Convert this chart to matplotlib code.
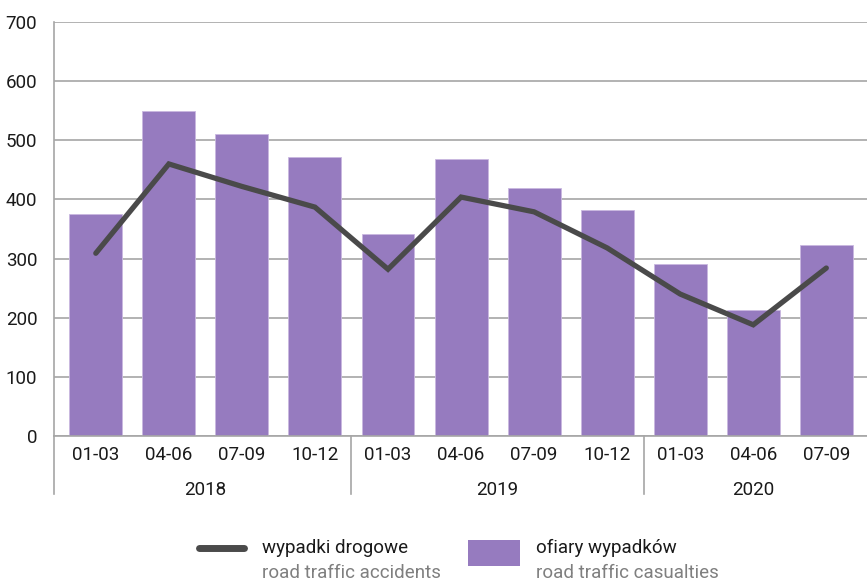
import matplotlib
matplotlib.use("Agg")
import matplotlib.pyplot as plt
from matplotlib.lines import Line2D
from matplotlib.patches import Rectangle
import matplotlib.transforms as mtransforms

quarters = ["01-03", "04-06", "07-09", "10-12",
            "01-03", "04-06", "07-09", "10-12",
            "01-03", "04-06", "07-09"]
years = ["2018", "2019", "2020"]
year_counts = [4, 4, 3]
casualties = [375, 550, 511, 471, 341, 468, 420, 382, 291, 213, 323]
accidents = [309, 460, 422, 387, 282, 404, 379, 318, 240, 188, 284]
yticks = [0, 100, 200, 300, 400, 500, 600, 700]

plt.rcParams['font.family'] = ['Roboto', 'DejaVu Sans']

BAR = "#967bbf"
LINE = "#4a4a4a"
GRID = "#a6a6a6"
TXT = "#1a1a1a"
SUB = "#7f7f7f"

fig = plt.figure(figsize=(8.67, 5.81), dpi=100)
ax = fig.add_axes([0.0623, 0.2496, 0.9377, 0.7125])

x = list(range(len(quarters)))
ax.bar(x, casualties, width=0.725, color=BAR, edgecolor="#c9b8e0", linewidth=0.6, zorder=2)
ax.plot(x, accidents, color=LINE, linewidth=3.8, solid_capstyle="round",
        solid_joinstyle="miter", zorder=3)

ax.set_xlim(-0.572, len(quarters) - 0.443)
ax.set_ylim(0, 700)
ax.set_yticks(yticks)
ax.set_yticklabels([str(v) for v in yticks], fontsize=13.5, color=TXT)
ax.yaxis.grid(True, color=GRID, linewidth=1.2, zorder=0)
ax.set_axisbelow(True)
for s in ["top", "right"]:
    ax.spines[s].set_visible(False)
ax.spines["left"].set_color(GRID)
ax.spines["left"].set_linewidth(1.2)
ax.spines["bottom"].set_color(GRID)
ax.spines["bottom"].set_linewidth(1.2)
ax.tick_params(axis="y", length=0, pad=12)
ax.tick_params(axis="x", length=0)
ax.set_xticks(x)
ax.set_xticklabels(quarters, fontsize=13.5, color=TXT)
ax.tick_params(axis="x", pad=7)

trans = mtransforms.blended_transform_factory(ax.transData, ax.transAxes)
# group dividers and year labels
start = 0
bounds = []
for yr, n in zip(years, year_counts):
    center = start + (n - 1) / 2
    ax.text(center, -0.13, yr, transform=trans, ha="center", va="center",
            fontsize=13.5, color=TXT)
    start += n
    bounds.append(start - 0.5)
for b in bounds[:-1]:
    ax.add_line(Line2D([b, b], [0, -0.14], transform=trans, color=GRID,
                       linewidth=1.2, clip_on=False))
ax.add_line(Line2D([0, 0], [0, -0.14], transform=ax.transAxes, color=GRID,
                   linewidth=1.2, clip_on=False))

# legend
fig.add_artist(Line2D([0.229, 0.281], [0.057, 0.057], transform=fig.transFigure,
                      color=LINE, linewidth=5, solid_capstyle="round"))
fig.text(0.302, 0.057, "wypadki drogowe", fontsize=13.5, color=TXT, va="center")
fig.text(0.302, 0.014, "road traffic accidents", fontsize=13.5, color=SUB, va="center")
fig.add_artist(Rectangle((0.540, 0.026), 0.060, 0.044, transform=fig.transFigure,
                         facecolor=BAR, edgecolor="none"))
fig.text(0.618, 0.057, "ofiary wypadków", fontsize=13.5, color=TXT, va="center")
fig.text(0.618, 0.014, "road traffic casualties", fontsize=13.5, color=SUB, va="center")

fig.savefig("out.png", dpi=100)
